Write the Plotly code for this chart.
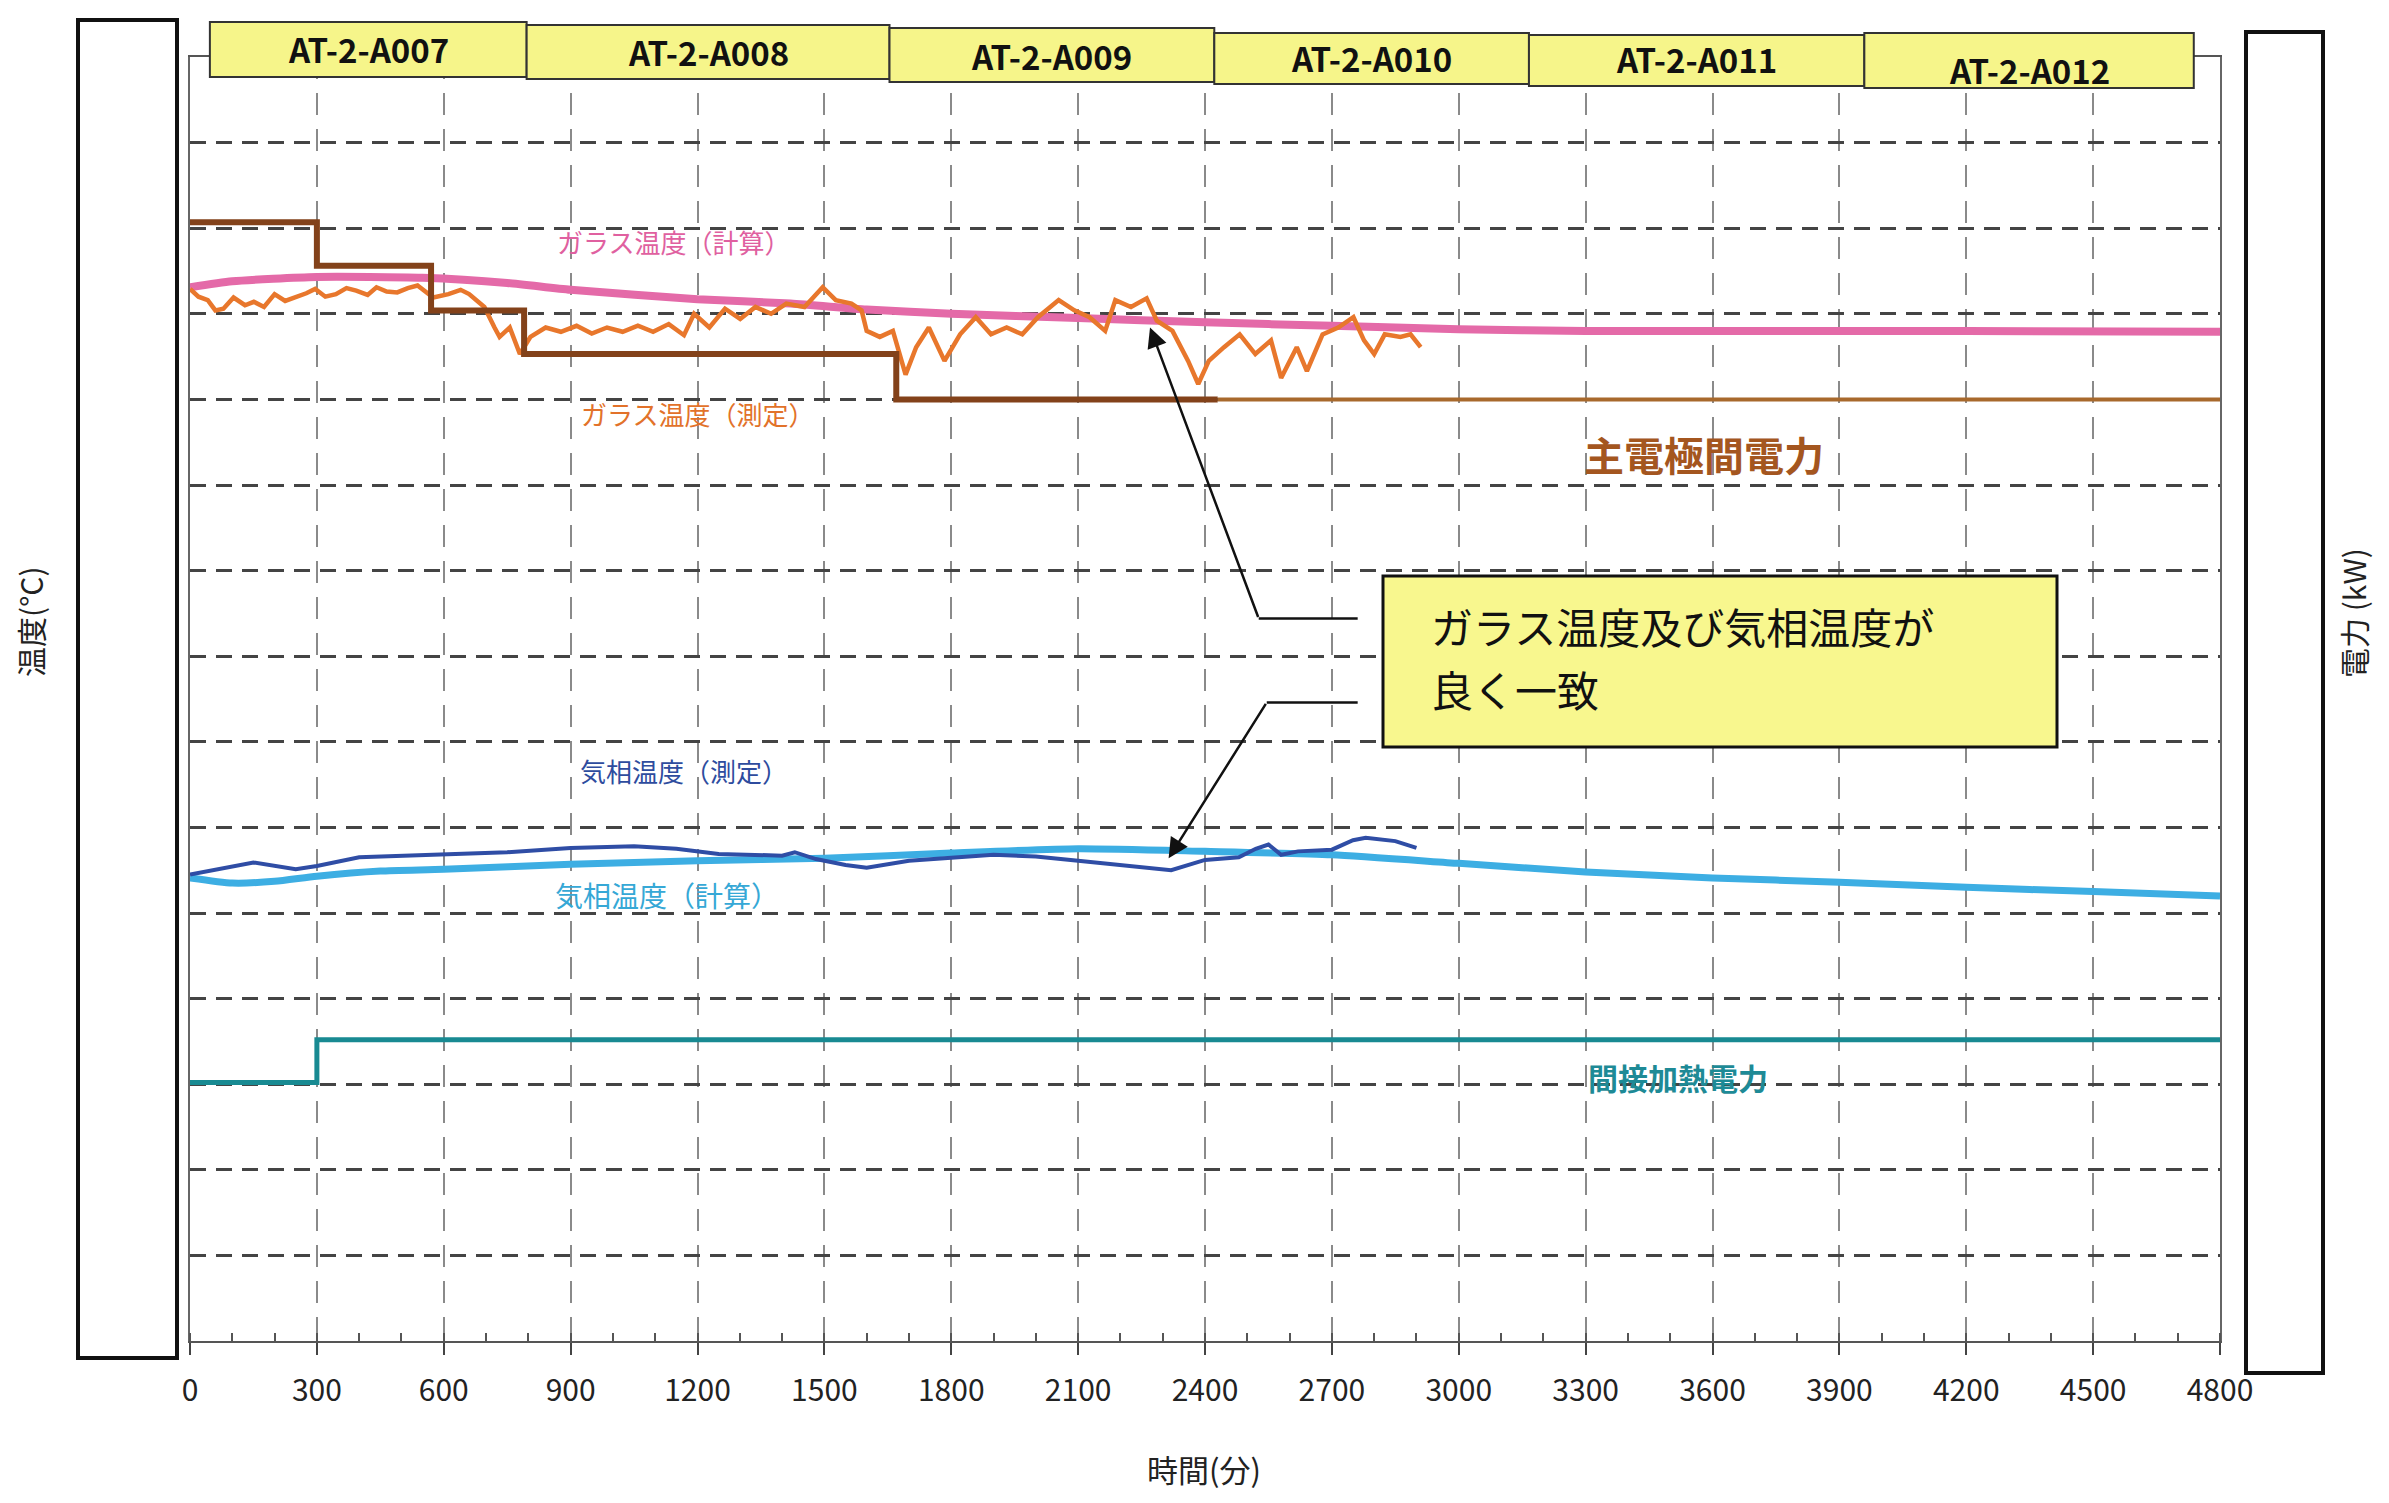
import plotly.graph_objects as go

# ---------------- data ----------------
# ガラス温度(計算)  [min], [°C]
glass_calc_t = [0, 100, 300, 550, 750, 900, 1200, 1420, 1600, 1800, 2100, 2400, 2700, 3000, 3300, 3600, 4200, 4800]
glass_calc_v = [1231, 1238, 1243, 1242, 1236, 1228, 1217, 1212, 1205, 1200, 1195, 1190, 1186, 1182, 1180, 1180, 1180, 1179]

# ガラス温度(測定)
glass_meas_t = [0, 20, 42, 60, 79, 103, 130, 151, 175, 200,
                225, 248, 275, 296, 320, 345, 370, 393, 420, 441,
                465, 490, 515, 538, 575, 611, 640, 660, 696, 720,
                732, 756, 780, 805, 841, 877, 914, 950, 986, 1023,
                1059, 1095, 1132, 1168, 1192, 1228, 1265, 1301, 1337, 1374,
                1410, 1453, 1496, 1527, 1564, 1588, 1600, 1631, 1662, 1692,
                1717, 1747, 1784, 1821, 1858, 1894, 1931, 1968, 2005, 2054,
                2091, 2127, 2164, 2188, 2225, 2262, 2286, 2323, 2360, 2384,
                2409, 2445, 2482, 2519, 2556, 2580, 2617, 2641, 2678, 2715,
                2751, 2776, 2800, 2825, 2862, 2886, 2910]
glass_meas_v = [1229, 1220, 1216, 1204, 1206, 1219, 1210, 1214, 1208, 1223,
                1215, 1219, 1224, 1229, 1220, 1223, 1230, 1227, 1222, 1231,
                1226, 1225, 1230, 1233, 1219, 1223, 1228, 1223, 1208, 1184,
                1173, 1184, 1153, 1173, 1184, 1179, 1186, 1177, 1184, 1179,
                1186, 1179, 1188, 1175, 1200, 1184, 1206, 1194, 1208, 1200,
                1212, 1208, 1231, 1216, 1212, 1204, 1180, 1173, 1180, 1129,
                1161, 1184, 1145, 1176, 1196, 1176, 1184, 1176, 1196, 1216,
                1204, 1196, 1180, 1216, 1208, 1218, 1192, 1180, 1145, 1118,
                1145, 1161, 1176, 1153, 1169, 1125, 1161, 1133, 1176, 1184,
                1196, 1169, 1153, 1176, 1173, 1176, 1161]

# 気相温度(測定)
gas_meas_t = [0, 60, 150, 250, 300, 400, 600, 750, 900, 1050, 1150, 1250, 1400, 1430, 1480,
              1550, 1600, 1700, 1900, 2000, 2100, 2250, 2320, 2400, 2480, 2520, 2550, 2580,
              2620, 2700, 2750, 2780, 2850, 2900]
gas_meas_v = [545, 551, 559, 551, 555, 565, 569, 571, 576, 578, 575, 569, 567, 571, 563,
              556, 553, 561, 568, 566, 561, 554, 550, 562, 565, 575, 580, 568,
              572, 574, 585, 588, 584, 576]

# 気相温度(計算)
gas_calc_t = [0, 100, 200, 300, 450, 600, 900, 1200, 1500, 1800, 2100, 2400, 2700, 3000, 3300, 3600, 3900, 4200, 4500, 4800]
gas_calc_v = [541, 535, 537, 543, 549, 551, 557, 561, 564, 570, 575, 572, 568, 558, 548, 541, 536, 530, 525, 520]

# 主電極間電力 [kW] (measured steps, then set value)
main_pw_t = [0, 300, 570, 790, 1670, 2430]
main_pw_v = [130.7, 125.6, 120.4, 115.3, 110.0, 110.0]
main_pw_set_t = [2430, 4800]
main_pw_set_v = [110.0, 110.0]

# 間接加熱電力 [kW]
ind_pw_t = [0, 300, 4800]
ind_pw_v = [30.2, 35.2, 35.2]

# batches
batch_names = ["AT-2-A007", "AT-2-A008", "AT-2-A009", "AT-2-A010", "AT-2-A011", "AT-2-A012"]
batch_start = [47, 796, 1654, 2422, 3166, 3959]
batch_end = [796, 1654, 2422, 3166, 3959, 4738]

x_ticks = list(range(0, 4801, 300))

# ---------------- layout geometry (screen pixels) ----------------
OFF = 8                      # default page body margin
W, H = 2389 - 2 * OFF, 1503 - 2 * OFF
L, R, T, B = 190, 2220, 57, 1341   # plot frame in screenshot pixels


def px(x):
    return (x - L) / (R - L)


def py(y):
    return (B - y) / (B - T)


JP = "Noto Sans CJK JP"

fig = go.Figure()

fig.add_trace(go.Scatter(x=glass_calc_t, y=glass_calc_v, mode="lines", name="ガラス温度(計算)",
                         line=dict(color="#E46AA8", width=8, shape="spline", smoothing=0.6)))
fig.add_trace(go.Scatter(x=glass_meas_t, y=glass_meas_v, mode="lines", name="ガラス温度(測定)",
                         line=dict(color="#E8772C", width=4.5)))
fig.add_trace(go.Scatter(x=main_pw_t, y=main_pw_v, mode="lines", name="主電極間電力", yaxis="y2",
                         line=dict(color="#83421A", width=6, shape="hv")))
fig.add_trace(go.Scatter(x=main_pw_set_t, y=main_pw_set_v, mode="lines", name="主電極間電力(設定)", yaxis="y2",
                         line=dict(color="#A8692C", width=4)))
fig.add_trace(go.Scatter(x=gas_calc_t, y=gas_calc_v, mode="lines", name="気相温度(計算)",
                         line=dict(color="#3DAEE3", width=7, shape="spline", smoothing=0.6)))
fig.add_trace(go.Scatter(x=gas_meas_t, y=gas_meas_v, mode="lines", name="気相温度(測定)",
                         line=dict(color="#2F4DA5", width=4)))
fig.add_trace(go.Scatter(x=ind_pw_t, y=ind_pw_v, mode="lines", name="間接加熱電力", yaxis="y2",
                         line=dict(color="#188A92", width=5, shape="hv")))

shapes = []
annotations = []

# batch header boxes
box_tops = [22, 25, 28, 33, 35, 33]
box_bots = [77, 79, 82, 84, 86, 88]
text_ys = [49, 52, 56, 58, 59, 70]
for name, s, e, yt, yb, ty in zip(batch_names, batch_start, batch_end, box_tops, box_bots, text_ys):
    shapes.append(dict(type="rect", xref="x", yref="paper", x0=s, x1=e, y0=py(yb), y1=py(yt),
                       fillcolor="#F6F58A", line=dict(color="#333", width=2), layer="above"))
    annotations.append(dict(x=(s + e) / 2, y=py(ty), xref="x", yref="paper", text=name, showarrow=False,
                            font=dict(family=JP, size=33, color="#111", weight="bold"),
                            xanchor="center", yanchor="middle"))

# white boxes covering axis tick labels
shapes.append(dict(type="rect", xref="paper", yref="paper", x0=px(78), x1=px(177), y0=py(1358), y1=py(20),
                   fillcolor="white", line=dict(color="#111", width=4), layer="above"))
shapes.append(dict(type="rect", xref="paper", yref="paper", x0=px(2246), x1=px(2323), y0=py(1373), y1=py(32),
                   fillcolor="white", line=dict(color="#111", width=4), layer="above"))

# comment box
shapes.append(dict(type="rect", xref="paper", yref="paper", x0=px(1383), x1=px(2057), y0=py(747), y1=py(576),
                   fillcolor="#F8F78E", line=dict(color="#111", width=3), layer="above"))
annotations.append(dict(x=px(1429), y=py(625), xref="paper", yref="paper", text="ガラス温度及び気相温度が",
                        showarrow=False, xanchor="left", yanchor="middle",
                        font=dict(family=JP, size=42, color="#111")))
annotations.append(dict(x=px(1429), y=py(688), xref="paper", yref="paper", text="良く一致",
                        showarrow=False, xanchor="left", yanchor="middle",
                        font=dict(family=JP, size=42, color="#111")))

# arrows (horizontal leader + arrow)
shapes.append(dict(type="line", xref="x", yref="y", x0=2527, y0=844, x1=2761, y1=844,
                   line=dict(color="#111", width=2.5)))
shapes.append(dict(type="line", xref="x", yref="y", x0=2546, y0=746, x1=2761, y1=746,
                   line=dict(color="#111", width=2.5)))
annotations.append(dict(x=2270, y=1184, xref="x", yref="y", ax=2527, ay=844, axref="x", ayref="y",
                        showarrow=True, arrowhead=2, arrowsize=1.6, arrowwidth=2.5, arrowcolor="#111", text=""))
annotations.append(dict(x=2314, y=564, xref="x", yref="y", ax=2546, ay=746, axref="x", ayref="y",
                        showarrow=True, arrowhead=2, arrowsize=1.6, arrowwidth=2.5, arrowcolor="#111", text=""))

# series labels
labels = [
    ("ガラス温度（計算）", 1144, 1284, "#E060A0", 26, False),
    ("ガラス温度（測定）", 1199, 1084, "#E2722A", 26, False),
    ("主電極間電力", 3580, 1036, "#A4561F", 40, True),
    ("気相温度（測定）", 1167, 666, "#2E4C9E", 26, False),
    ("気相温度（計算）", 1127, 521, "#36A8D6", 28, False),
    ("間接加熱電力", 3519, 308, "#1E8A96", 30, True),
]
for txt, x, y, c, s, b in labels:
    annotations.append(dict(x=x, y=y, xref="x", yref="y", text=txt, showarrow=False,
                            font=dict(family=JP, size=s, color=c, weight="bold" if b else "normal"),
                            xanchor="center", yanchor="middle"))

# axis titles
annotations.append(dict(x=px(30), y=py(622), xref="paper", yref="paper", text="温度(°C)", textangle=-90,
                        xanchor="center", yanchor="middle",
                        showarrow=False, font=dict(family=JP, size=30, color="#222")))
annotations.append(dict(x=px(2353), y=py(613), xref="paper", yref="paper", text="電力 (kW)", textangle=-90,
                        xanchor="center", yanchor="middle",
                        showarrow=False, font=dict(family=JP, size=30, color="#222")))
annotations.append(dict(x=px(1204), y=py(1468), xref="paper", yref="paper", text="時間(分)",
                        xanchor="center", yanchor="middle",
                        showarrow=False, font=dict(family=JP, size=31, color="#222")))

fig.update_layout(
    width=W, height=H,
    margin=dict(l=L - OFF, r=W - (R - OFF), t=T - OFF, b=H - (B - OFF), pad=0),
    paper_bgcolor="white", plot_bgcolor="white",
    showlegend=False,
    xaxis=dict(range=[0, 4800], tickvals=x_ticks, showgrid=True, gridcolor="#8a8a8a", gridwidth=1.5,
               griddash="22px,14px", zeroline=False, showline=True, linecolor="#555", linewidth=2,
               mirror=True, ticks="outside", ticklen=12, tickwidth=2, tickcolor="#444",
               minor=dict(dtick=100, ticks="inside", ticklen=8, tickwidth=1.5, tickcolor="#555", showgrid=False),
               tickfont=dict(family=JP, size=30, color="#222"), ticklabelstandoff=10),
    yaxis=dict(range=[0, 1500], dtick=100, showgrid=True, gridcolor="#444", gridwidth=2.5,
               griddash="16px,10px", zeroline=False, showline=True, linecolor="#666", linewidth=2,
               mirror=True, showticklabels=False, ticks=""),
    yaxis2=dict(range=[0, 150], overlaying="y", side="right", showgrid=False, zeroline=False,
                showline=False, showticklabels=False, ticks=""),
    shapes=shapes,
    annotations=annotations,
)

fig.write_html("out.html")
